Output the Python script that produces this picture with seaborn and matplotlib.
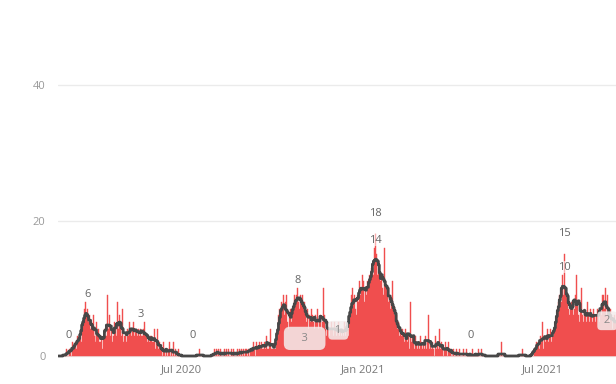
import pandas as pd
import matplotlib.pyplot as plt
import seaborn as sns

# daily cases, one list per month (starts 28 Feb 2020, ends 13 Sep 2021)
feb20 = [0, 0]
mar20 = [0, 0, 0, 0, 0, 0, 1, 0, 0, 1, 1, 0, 2, 1, 1, 2, 1, 3, 2, 3,
         3, 2, 4, 5, 7, 8, 6, 7, 5, 6, 4]
apr20 = [5, 4, 6, 3, 4, 2, 5, 3, 4, 2, 2, 3, 1, 3, 4, 3, 3, 9, 4, 6,
         3, 4, 2, 3, 5, 4, 3, 8, 4, 6]
may20 = [4, 3, 7, 2, 3, 3, 2, 4, 3, 5, 4, 3, 4, 5, 3, 4, 4, 3, 4, 3,
         4, 3, 3, 4, 5, 3, 3, 2, 3, 2, 3]
jun20 = [3, 2, 2, 4, 1, 2, 4, 1, 2, 1, 1, 0, 2, 1, 0, 1, 0, 1, 2, 0,
         1, 0, 2, 0, 1, 0, 0, 1, 0, 0]
jul20 = [0, 0, 0, 0, 0, 0, 0, 0, 0, 0, 0, 0, 0, 0, 0, 0, 0, 0, 0, 1,
         0, 0, 0, 0, 0, 0, 0, 0, 0, 0, 0]
aug20 = [0, 0, 0, 1, 0, 1, 0, 1, 0, 1, 0, 0, 0, 1, 0, 1, 0, 1, 0, 0,
         1, 0, 1, 0, 0, 0, 1, 0, 1, 0, 1]
sep20 = [0, 1, 0, 1, 1, 0, 1, 0, 1, 1, 1, 2, 1, 0, 2, 1, 1, 2, 1, 2,
         1, 1, 2, 1, 3, 1, 1, 2, 4, 1]
oct20 = [1, 1, 2, 1, 1, 2, 4, 6, 7, 6, 8, 7, 9, 6, 8, 9, 5, 4, 6, 7,
         5, 6, 7, 9, 8, 9, 10, 8, 7, 9, 8]
nov20 = [9, 7, 8, 6, 5, 7, 4, 6, 5, 7, 6, 5, 4, 6, 5, 7, 4, 5, 6, 4,
         5, 10, 6, 4, 3, 5, 4, 3, 4, 5]
dec20 = [4, 3, 5, 4, 3, 4, 5, 3, 4, 3, 4, 3, 5, 3, 4, 4, 3, 5, 6, 9,
         10, 8, 9, 7, 6, 9, 8, 11, 9, 10, 12]
jan21 = [9, 11, 8, 10, 9, 11, 10, 12, 11, 13, 13, 12, 16, 18, 15, 12, 14, 12, 11, 12,
         10, 9, 16, 11, 10, 9, 8, 9, 7, 8, 11]
feb21 = [7, 6, 5, 6, 4, 5, 3, 4, 3, 4, 3, 2, 4, 3, 2, 3, 1, 8, 2, 3,
         2, 1, 3, 2, 1, 2, 1, 3]
mar21 = [2, 1, 2, 1, 3, 1, 2, 6, 1, 2, 1, 2, 1, 0, 3, 1, 2, 1, 4, 1,
         2, 1, 0, 1, 2, 1, 0, 2, 1, 1, 0]
apr21 = [1, 0, 1, 0, 0, 1, 0, 0, 1, 0, 0, 0, 1, 0, 0, 1, 0, 0, 0, 0,
         0, 1, 0, 0, 0, 0, 0, 1, 0, 0]
may21 = [1, 0, 0, 0, 0, 0, 0, 0, 0, 0, 0, 0, 0, 0, 0, 0, 0, 0, 0, 0,
         2, 0, 0, 0, 0, 0, 0, 0, 0, 0, 0]
jun21 = [0, 0, 0, 0, 0, 0, 0, 0, 0, 0, 1, 0, 0, 0, 0, 0, 0, 0, 0, 0,
         0, 0, 1, 1, 2, 1, 2, 1, 3, 2]
jul21 = [2, 5, 1, 3, 2, 3, 4, 2, 3, 4, 2, 3, 3, 4, 5, 5, 7, 8, 9, 9,
         8, 12, 9, 15, 10, 9, 8, 7, 6, 7, 8]
aug21 = [8, 6, 7, 9, 12, 8, 6, 5, 7, 10, 6, 5, 7, 6, 5, 8, 6, 5, 7, 6,
         5, 7, 6, 5, 6, 7, 6, 5, 7, 6, 9]
sep21 = [9, 7, 10, 6, 9, 6, 5, 7, 6, 4, 5, 6, 5]

cases = (feb20 + mar20 + apr20 + may20 + jun20 + jul20 + aug20 + sep20 + oct20
         + nov20 + dec20 + jan21 + feb21 + mar21 + apr21 + may21 + jun21
         + jul21 + aug21 + sep21)

tick_dates = ["2020-07-01", "2021-01-01", "2021-07-01"]
tick_labels = ["Jul 2020", "Jan 2021", "Jul 2021"]

# value labels above the series
label_dates = ["2020-03-09", "2020-03-28", "2020-05-21", "2020-07-13", "2020-10-27",
               "2021-01-14", "2021-01-14", "2021-04-20", "2021-07-24", "2021-07-24"]
label_values = [0, 6, 3, 0, 8, 18, 14, 0, 15, 10]

# boxed labels
box_dates = ["2020-11-03", "2020-12-07", "2021-09-05"]
box_labels = ["3", "1", "2"]

df = pd.DataFrame({"date": pd.date_range("2020-02-28", periods=len(cases), freq="D"),
                   "cases": cases})
df["avg"] = df["cases"].rolling(7, center=True, min_periods=1).mean()

sns.set_theme(style="white")
plt.rcParams["font.family"] = ["Open Sans", "DejaVu Sans"]

fig = plt.figure(figsize=(6.16, 3.84), dpi=100)
ax = fig.add_axes([58 / 616, (384 - 358.7) / 384, (616 - 58) / 616, 358.7 / 384])

ax.bar(df["date"], df["cases"], width=1.0, color="#f04e4e", edgecolor="#f04e4e",
       linewidth=0.3, zorder=2)
sns.lineplot(data=df, x="date", y="avg", ax=ax, color="#474747", linewidth=2,
             drawstyle="steps-mid", zorder=3)

for d, v in zip(label_dates, label_values):
    ax.annotate(str(v), xy=(pd.Timestamp(d), v), xytext=(0, 15), textcoords="offset points",
                ha="center", va="center", fontsize=8, color="#666666", zorder=5,
                bbox=dict(boxstyle="square,pad=0.05", fc="white", ec="none", alpha=0.55))

box_y = [2.6, 3.8, 5.2]
box_txt = ["    " + box_labels[0] + "    ", " " + box_labels[1] + " ", " " + box_labels[2] + " "]
box_pad = [0.55, 0.35, 0.35]
for d, y, t, p in zip(box_dates, box_y, box_txt, box_pad):
    ax.text(pd.Timestamp(d), y, t, ha="center", va="center", fontsize=8, color="#888888",
            zorder=6, bbox=dict(boxstyle=f"round,pad={p}", fc="#f4eeee", ec="none", alpha=0.85))

ax.set_xlim(pd.Timestamp("2020-02-27 14:00"), pd.Timestamp("2021-09-13 20:00"))
ax.set_ylim(-0.4, 52.55)
ax.set_yticks([0, 20, 40])
ax.set_xticks([pd.Timestamp(t) for t in tick_dates])
ax.set_xticklabels(tick_labels)
ax.set_xlabel("")
ax.set_ylabel("")
ax.yaxis.grid(True, color="#ebebeb", linewidth=1)
ax.xaxis.grid(False)
ax.set_axisbelow(True)
ax.tick_params(axis="y", length=0, pad=9, labelsize=8, labelcolor="#999999")
ax.tick_params(axis="x", length=0, pad=4, labelsize=8, labelcolor="#777777")
sns.despine(ax=ax, left=True, bottom=True)

fig.savefig("out.png", dpi=100)
